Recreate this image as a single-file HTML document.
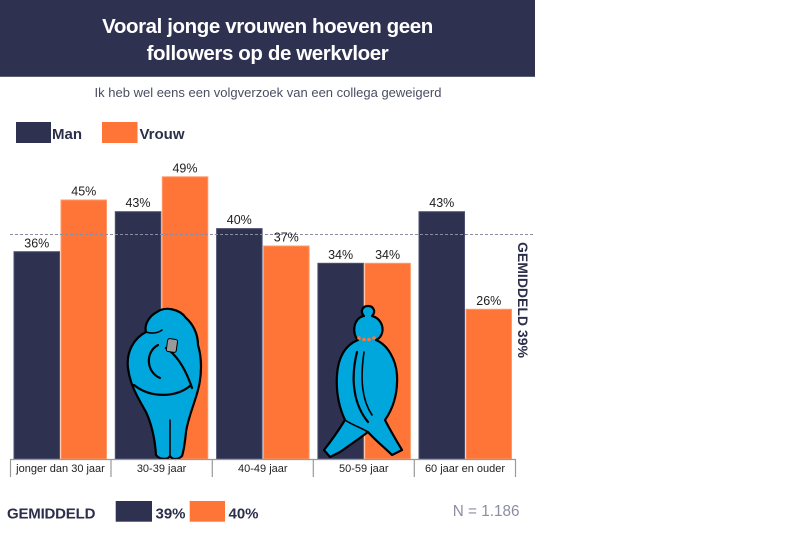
<!DOCTYPE html>
<html>
<head>
<meta charset="utf-8">
<style>
  html,body{margin:0;padding:0;background:#fff;}
  body{width:799px;height:533px;overflow:hidden;position:relative;font-family:"Liberation Sans",Arial,sans-serif;}
  svg{position:absolute;left:0;top:0;}
</style>
</head>
<body>
<svg width="799" height="533" viewBox="0 0 799 533" xmlns="http://www.w3.org/2000/svg" font-family="Liberation Sans, Arial, sans-serif">
  <!-- Header -->
  <rect x="0" y="0" width="535" height="76" fill="#2e3150"/>
  <rect x="0" y="76" width="535" height="1" fill="#5a5e78"/>
  <text x="267.5" y="33" text-anchor="middle" fill="#ffffff" font-weight="bold" font-size="20.5" letter-spacing="-0.4">Vooral jonge vrouwen hoeven geen</text>
  <text x="267.5" y="60" text-anchor="middle" fill="#ffffff" font-weight="bold" font-size="20.5" letter-spacing="-0.4">followers op de werkvloer</text>

  <!-- Subtitle -->
  <text x="268" y="97" text-anchor="middle" fill="#4a4d62" font-size="13">Ik heb wel eens een volgverzoek van een collega geweigerd</text>

  <!-- Legend -->
  <rect x="16" y="122" width="35" height="21" fill="#2e3250"/>
  <text x="52" y="139" fill="#2b2f4a" font-weight="bold" font-size="15">Man</text>
  <rect x="102" y="122" width="35.5" height="21" fill="#fe7537"/>
  <text x="139.5" y="139" fill="#2b2f4a" font-weight="bold" font-size="15">Vrouw</text>

  <!-- Bars -->
  <g stroke-width="1">
    <rect x="14" y="251.7" width="45.5" height="207.3" fill="#2e3250" stroke="#4c5070"/>
    <rect x="61" y="200" width="45.5" height="259" fill="#fe7537" stroke="#ff9a68"/>

    <rect x="115.3" y="211.7" width="45.5" height="247.3" fill="#2e3250" stroke="#4c5070"/>
    <rect x="162.3" y="176.8" width="45.5" height="282.2" fill="#fe7537" stroke="#ff9a68"/>

    <rect x="216.6" y="228.6" width="45.5" height="230.4" fill="#2e3250" stroke="#4c5070"/>
    <rect x="263.6" y="246" width="45.5" height="213" fill="#fe7537" stroke="#ff9a68"/>

    <rect x="317.9" y="263.3" width="45.5" height="195.7" fill="#2e3250" stroke="#4c5070"/>
    <rect x="364.9" y="263.3" width="45.5" height="195.7" fill="#fe7537" stroke="#ff9a68"/>

    <rect x="419" y="211.7" width="45.5" height="247.3" fill="#2e3250" stroke="#4c5070"/>
    <rect x="466" y="309.3" width="45.5" height="149.7" fill="#fe7537" stroke="#ff9a68"/>
  </g>

  <!-- Average dashed line -->
  <line x1="10" y1="234.5" x2="535" y2="234.5" stroke="#8a8ca0" stroke-width="1" stroke-dasharray="3,2"/>

  <!-- Value labels -->
  <g font-size="12.5" fill="#1d1d1d" text-anchor="middle">
    <text x="36.8" y="247.3">36%</text>
    <text x="83.8" y="195.5">45%</text>
    <text x="138" y="207.2">43%</text>
    <text x="185" y="172.3">49%</text>
    <text x="239.3" y="224.1">40%</text>
    <text x="286.3" y="241.5">37%</text>
    <text x="340.6" y="258.8">34%</text>
    <text x="387.6" y="258.8">34%</text>
    <text x="441.8" y="207.2">43%</text>
    <text x="488.8" y="304.8">26%</text>
  </g>

  <!-- Figure 1: woman with phone -->
  <g stroke="#000" stroke-width="2.2" stroke-linejoin="round" stroke-linecap="round">
    <path d="M157,312 C165,306 180,309 186,318 C193,324 198,334 198,345 C202,358 202,375 198,390 C194,405 188,418 186,432 C185,442 184,450 182,456 C178,460 172,460 170,456 C168,460 160,460 156,455 C155,440 152,425 146,412 C138,398 130,385 128,368 C126,352 134,338 146,332 C144,325 149,316 157,312 Z" fill="#00a7dc"/>
    <path d="M158,345 C145,352 146,372 160,378" fill="none"/>
    <path d="M166,348 C178,356 186,370 192,388" fill="none"/>
    <path d="M134,385 C150,398 175,398 190,386" fill="none"/>
    <path d="M170,420 L170,455" fill="none" stroke-width="1.6"/>
    <path d="M146,332 C152,334 158,333 162,330" fill="none" stroke-width="1.6"/>
  </g>
  <rect x="167" y="339" width="10" height="13" rx="2" fill="#9a9a9a" stroke="#000" stroke-width="1" transform="rotate(8 172 345)"/>

  <!-- Figure 2: walking woman -->
  <g stroke="#000" stroke-width="2.2" stroke-linejoin="round" stroke-linecap="round">
    <path d="M368,306 C374,306 376,312 372,316 C380,318 384,326 382,333 C381,337 378,339 376,340 C388,345 396,360 397,375 C398,395 392,410 385,420 C390,430 396,440 402,450 L392,455 C385,448 375,440 368,432 C360,438 350,445 340,452 L330,457 L324,450 C332,440 340,428 345,420 C338,405 336,390 337,375 C338,358 345,345 358,340 C354,336 353,328 356,322 C358,318 362,316 364,316 C360,312 362,306 368,306 Z" fill="#00a7dc"/>
    <path d="M357,352 C350,380 354,405 368,422" fill="none"/>
    <path d="M364,352 C360,380 362,400 372,415" fill="none" stroke-width="1.6"/>
    <path d="M345,420 C352,425 362,428 368,432" fill="none" stroke-width="1.6"/>
  </g>
  <g fill="#fe7537">
    <circle cx="359" cy="338" r="1.8"/>
    <circle cx="364" cy="339.5" r="1.8"/>
    <circle cx="369" cy="339.5" r="1.8"/>
    <circle cx="374" cy="338" r="1.8"/>
  </g>

  <!-- Category axis -->
  <g stroke="#9a9a9a" stroke-width="1.2">
    <line x1="10" y1="459.5" x2="516" y2="459.5"/>
    <line x1="10.5" y1="459" x2="10.5" y2="477"/>
    <line x1="111" y1="459" x2="111" y2="477"/>
    <line x1="212.3" y1="459" x2="212.3" y2="477"/>
    <line x1="313.3" y1="459" x2="313.3" y2="477"/>
    <line x1="414.3" y1="459" x2="414.3" y2="477"/>
    <line x1="515.5" y1="459" x2="515.5" y2="477"/>
  </g>
  <g font-size="11" fill="#222" text-anchor="middle">
    <text x="60.5" y="472">jonger dan 30 jaar</text>
    <text x="161.6" y="472">30-39 jaar</text>
    <text x="262.8" y="472">40-49 jaar</text>
    <text x="363.8" y="472">50-59 jaar</text>
    <text x="465" y="472">60 jaar en ouder</text>
  </g>

  <!-- Vertical average label -->
  <text x="0" y="0" transform="translate(518,300) rotate(90)" text-anchor="middle" fill="#2b2f4a" font-weight="bold" font-size="14">GEMIDDELD 39%</text>

  <!-- Bottom average -->
  <text x="7" y="518.3" fill="#2b2f4a" font-weight="bold" font-size="15" letter-spacing="-0.2">GEMIDDELD</text>
  <rect x="115.7" y="501" width="36.3" height="20.7" fill="#2e3250"/>
  <text x="155.5" y="518.3" fill="#2b2f4a" font-weight="bold" font-size="15">39%</text>
  <rect x="189.7" y="501" width="35.3" height="20.7" fill="#fe7537"/>
  <text x="228.5" y="518.3" fill="#2b2f4a" font-weight="bold" font-size="15">40%</text>

  <text x="519.5" y="516" text-anchor="end" fill="#8b8ea0" font-size="15.3">N = 1.186</text>
</svg>
</body>
</html>
